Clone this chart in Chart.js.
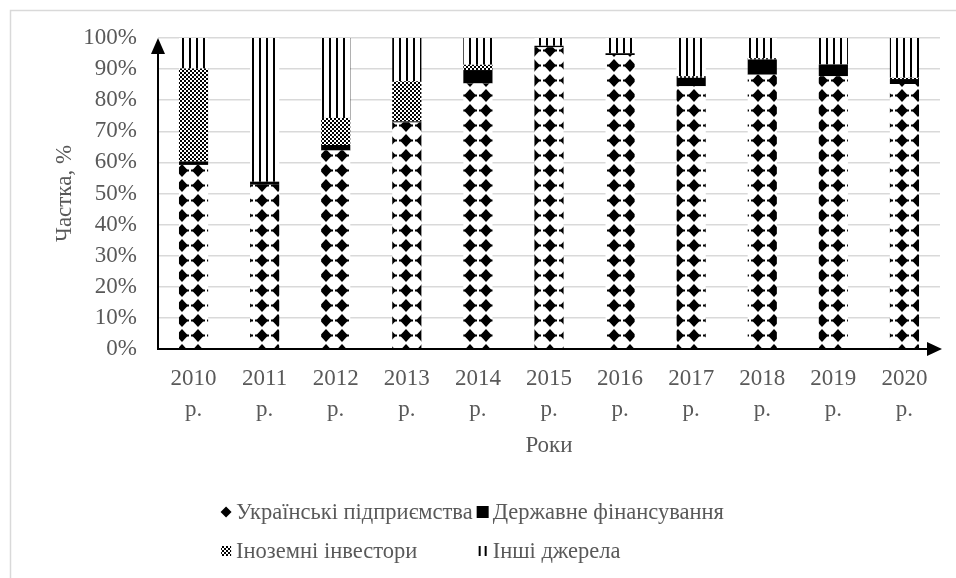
<!DOCTYPE html>
<html>
<head>
<meta charset="utf-8">
<script src="https://cdn.jsdelivr.net/npm/chart.js@4"></script>
<style>
  html, body { margin: 0; padding: 0; background: #fff; }
  #wrap { width: 956px; height: 578px; position: relative; }
</style>
</head>
<body>
<div id="wrap"><canvas id="chart"></canvas></div>
<script>
// data, in % of the total per year
const years = ['2010', '2011', '2012', '2013', '2014', '2015', '2016', '2017', '2018', '2019', '2020'];
const yearSuffix = 'р.';
const ukrainianCompanies = [59.2, 52.8, 63.8, 72.8, 85.4, 97.0, 94.5, 84.5, 88.2, 87.7, 85.2];
const stateFunding = [1.1, 1.0, 1.8, 0.4, 4.3, 0.5, 0.6, 2.7, 4.9, 3.8, 1.6];
const foreignInvestors = [29.9, 0, 8.7, 12.9, 1.7, 0, 0, 0.5, 0.4, 0, 0.4];
const otherSources = [9.8, 46.2, 25.7, 13.9, 8.6, 2.5, 4.9, 12.3, 6.5, 8.5, 12.8];
const seriesNames = ['Українські підприємства', 'Державне фінансування', 'Іноземні інвестори', 'Інші джерела'];
const yTickStep = 10;

const FONT = "'Liberation Serif', 'Times New Roman', 'DejaVu Serif', serif";
const GREY = '#595959';

const canvas = document.getElementById('chart');
const ctx = canvas.getContext('2d');

// black & white fills like the Excel pattern fills
function makePattern(w, h, draw, dx, dy) {
    const c = document.createElement('canvas');
    c.width = w;
    c.height = h;
    const g = c.getContext('2d');
    g.fillStyle = '#fff';
    g.fillRect(0, 0, w, h);
    g.fillStyle = '#000';
    draw(g, w, h);
    const p = ctx.createPattern(c, 'repeat');
    if (dx || dy) p.setTransform(new DOMMatrix().translate(dx || 0, dy || 0));
    return p;
}

const diamondFill = makePattern(16, 15, (g) => {
    g.beginPath();
    g.moveTo(8, 1);
    g.lineTo(14, 7.5);
    g.lineTo(8, 14);
    g.lineTo(2, 7.5);
    g.closePath();
    g.fill();
    g.fillRect(1, 6.5, 14, 2);
}, -2, -2);
const checkerFill = makePattern(4, 4, (g) => {
    g.fillRect(0, 0, 2, 2);
    g.fillRect(2, 2, 2, 2);
});
const linesFill = makePattern(7, 4, (g) => {
    g.fillRect(0, 0, 2, 4);
});

// legend markers
const markers = [
    (c, x, y) => {
        c.fillStyle = '#000';
        c.beginPath();
        c.moveTo(x + 6, y - 5.5);
        c.lineTo(x + 11.5, y);
        c.lineTo(x + 6, y + 5.5);
        c.lineTo(x + 0.5, y);
        c.closePath();
        c.fill();
    },
    (c, x, y) => {
        c.fillStyle = '#000';
        c.fillRect(x, y - 6, 12, 12);
    },
    (c, x, y) => {
        c.fillStyle = checkerFill;
        c.fillRect(x + 1, y - 5, 10, 10);
    },
    (c, x, y) => {
        c.fillStyle = '#000';
        c.fillRect(x + 2, y - 5, 2, 10);
        c.fillRect(x + 8, y - 5, 2, 10);
    }
];

const framePlugin = {
    id: 'frame',
    beforeDraw(chart) {
        const c = chart.ctx;
        c.save();
        c.fillStyle = '#fff';
        c.fillRect(0, 0, chart.width, chart.height);
        c.strokeStyle = '#d9d9d9';
        c.lineWidth = 1.5;
        c.beginPath();
        c.moveTo(10.5, chart.height);
        c.lineTo(10.5, 10.5);
        c.lineTo(chart.width, 10.5);
        c.stroke();
        c.restore();
    }
};

const arrowAxesPlugin = {
    id: 'arrowAxes',
    afterDatasetsDraw(chart) {
        const c = chart.ctx;
        const a = chart.chartArea;
        c.save();
        c.strokeStyle = '#000';
        c.fillStyle = '#000';
        c.lineWidth = 2;
        c.beginPath();
        c.moveTo(a.left, a.top + 10);
        c.lineTo(a.left, a.bottom);
        c.lineTo(a.right - 10, a.bottom);
        c.stroke();
        // y arrow
        c.beginPath();
        c.moveTo(a.left, a.top);
        c.lineTo(a.left + 7, a.top + 16);
        c.lineTo(a.left - 7, a.top + 16);
        c.closePath();
        c.fill();
        // x arrow
        const tip = a.right + 2;
        c.beginPath();
        c.moveTo(tip, a.bottom);
        c.lineTo(tip - 15, a.bottom - 7);
        c.lineTo(tip - 15, a.bottom + 7);
        c.closePath();
        c.fill();
        c.restore();
    }
};

// two-column legend, as in the Excel original
const gridLegendPlugin = {
    id: 'gridLegend',
    afterDraw(chart) {
        const c = chart.ctx;
        c.save();
        c.font = '22.5px ' + FONT;
        c.textBaseline = 'middle';
        const markW = 16;
        const gap = 4;
        const itemW = seriesNames.map(n => markW + c.measureText(n).width);
        const col1 = Math.max(itemW[0], itemW[2]);
        const col2 = Math.max(itemW[1], itemW[3]);
        const x0 = 472 - (col1 + gap + col2) / 2;
        const rows = [chart.height - 66, chart.height - 27];
        seriesNames.forEach((name, i) => {
            const x = i % 2 === 0 ? x0 : x0 + col1 + gap;
            const y = rows[Math.floor(i / 2)];
            markers[i](c, x, y);
            c.fillStyle = GREY;
            c.fillText(name, x + markW, y + 1);
        });
        c.restore();
    }
};

new Chart(ctx, {
    type: 'bar',
    data: {
        labels: years.map(y => [y, yearSuffix]),
        datasets: [
            { label: seriesNames[0], data: ukrainianCompanies, backgroundColor: diamondFill },
            { label: seriesNames[1], data: stateFunding, backgroundColor: '#000' },
            { label: seriesNames[2], data: foreignInvestors, backgroundColor: checkerFill },
            { label: seriesNames[3], data: otherSources, backgroundColor: linesFill }
        ]
    },
    options: {
        responsive: true,
        maintainAspectRatio: false,
        animation: false,
        layout: { padding: { top: 38, right: 16, bottom: 118, left: 0 } },
        datasets: { bar: { barPercentage: 0.41, categoryPercentage: 1 } },
        plugins: {
            legend: { display: false },
            tooltip: { enabled: false }
        },
        scales: {
            x: {
                stacked: true,
                grid: { display: false },
                border: { display: false },
                ticks: {
                    color: GREY,
                    font: { family: FONT, size: 23, lineHeight: 1.35 },
                    padding: 6,
                    maxRotation: 0,
                    autoSkip: false
                },
                title: {
                    display: true,
                    text: 'Роки',
                    color: GREY,
                    font: { family: FONT, size: 23 },
                    padding: { top: 0, bottom: 0 }
                },
                afterFit: (scale) => { scale.height = 111; }
            },
            y: {
                stacked: true,
                min: 0,
                max: 100,
                grid: { color: '#d9d9d9', lineWidth: 1.5, drawTicks: false },
                border: { display: false },
                ticks: {
                    stepSize: yTickStep,
                    color: GREY,
                    font: { family: FONT, size: 23 },
                    padding: 21,
                    callback: (v) => v + '%'
                },
                title: {
                    display: true,
                    text: 'Частка, %',
                    color: GREY,
                    font: { family: FONT, size: 23 },
                    padding: { top: 51, bottom: 0 }
                },
                afterFit: (scale) => { scale.width = 158; }
            }
        }
    },
    plugins: [framePlugin, arrowAxesPlugin, gridLegendPlugin]
});
</script>
</body>
</html>
